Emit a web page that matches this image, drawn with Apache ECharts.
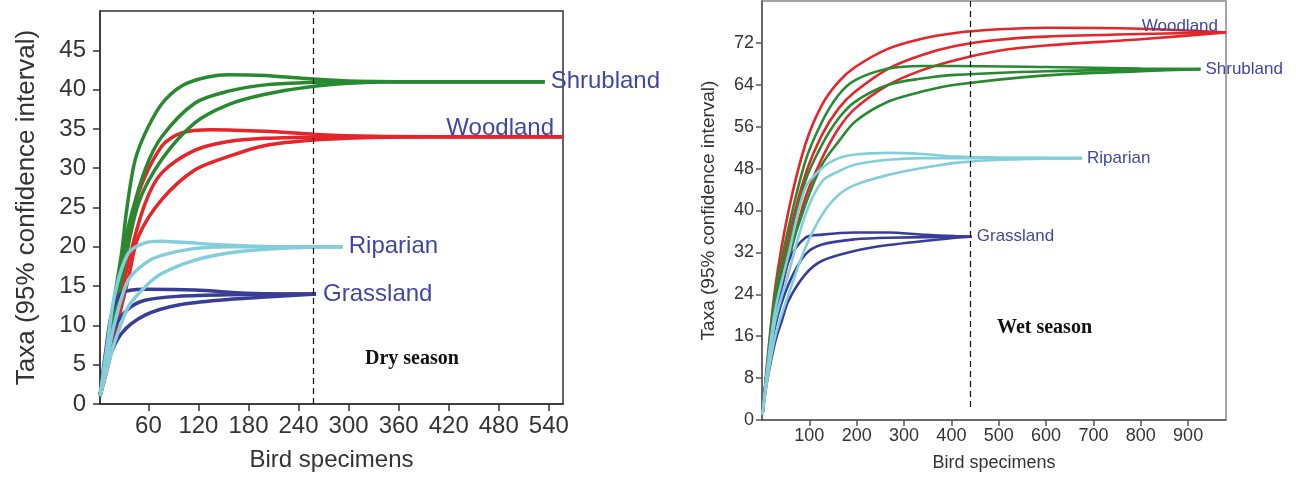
<!DOCTYPE html>
<html><head><meta charset="utf-8">
<script src="https://cdn.jsdelivr.net/npm/echarts@6/dist/echarts.min.js"></script>
<style>html,body{margin:0;padding:0;background:#fff}#c{width:1296px;height:479px}</style>
</head><body><div id="c"></div>
<script>
// ---------- tick labels ----------
const dryXTicks = [60,120,180,240,300,360,420,480,540];
const dryYTicks = [0,5,10,15,20,25,30,35,40,45];
const wetXTicks = [100,200,300,400,500,600,700,800,900];
const wetYTicks = [0,8,16,24,32,40,48,56,64,72];
const dryDivider = 258;
const wetDivider = 440;
const wetDividerSpan = [2.4, 80];
const habitats = ['Woodland','Shrubland','Grassland','Riparian'];

// ---------- Dry season (left) ----------
const dryWoodUpper = [[2,1],[12,6],[20,11],[32,18.3],[48,26.8],[76,32.8],[100,34.5],[136,34.9],[200,34.7],[260,34.3],[330,34.05],[400,34],[557,34]];
const dryWoodMid   = [[2,1],[12,5.5],[20,9.5],[36,18],[56,25.5],[76,29.4],[116,32.3],[156,33.4],[200,33.8],[260,33.95],[330,34],[557,34]];
const dryWoodLower = [[2,1],[12,5],[20,9],[36,16],[48,21.3],[76,26],[116,29.8],[156,31.5],[200,32.9],[260,33.6],[330,33.9],[400,34],[557,34]];
const dryShrubUpper = [[2,1],[8,5.5],[14,9.8],[20,14],[28,19.3],[34,24.7],[44,31],[60,35.3],[80,38.7],[108,40.9],[155,41.9],[200,41.8],[250,41.4],[300,41.1],[400,41],[535,41]];
const dryShrubMid   = [[2,1],[10,6],[20,13],[28,18],[36,22.6],[56,29.8],[76,34],[116,38.3],[156,39.8],[200,40.6],[250,40.9],[300,41],[535,41]];
const dryShrubLower = [[2,1],[10,5.5],[20,11.5],[30,17],[48,25.5],[76,31.1],[116,35.8],[156,38.1],[200,39.4],[250,40.3],[300,40.8],[350,41],[535,41]];
const dryGrassUpper = [[2,1],[8,6],[16,11.5],[28,14.1],[56,14.6],[116,14.5],[176,14.1],[220,14],[261,14]];
const dryGrassMid   = [[2,1],[10,5.5],[20,9.8],[36,12.1],[56,13.2],[96,13.7],[156,13.9],[261,14]];
const dryGrassLower = [[2,1],[12,5.5],[28,9],[56,11.3],[96,12.6],[156,13.3],[200,13.6],[261,14]];
const dryRipUpper = [[2,1],[10,7],[20,14.1],[36,19.2],[56,20.5],[76,20.7],[96,20.6],[156,20.2],[200,20.05],[293,20]];
const dryRipMid   = [[2,1],[12,6.5],[20,10.5],[36,15.8],[56,17.9],[76,18.9],[116,19.8],[156,20],[293,20]];
const dryRipLower = [[2,1],[12,5],[20,8],[36,12.4],[56,14.9],[76,16.6],[116,18.3],[156,19.2],[200,19.7],[250,19.95],[293,20]];

// ---------- Wet season (right) ----------
const wetWoodUpper = [[1,1],[10,10],[28,25.3],[56,39.9],[91.5,52.6],[127,60.2],[162,64.6],[197,67.4],[267,70.9],[338,72.8],[408,73.9],[500,74.6],[600,74.9],[800,74.7],[980,74]];
const wetWoodMid   = [[1,1],[10,9],[28,22],[56,34.8],[91.5,46.8],[127,54.5],[162,59.5],[197,62.7],[267,67.1],[338,69.7],[408,71.4],[500,72.6],[600,73.2],[800,73.7],[980,74]];
const wetWoodLower = [[1,1],[10,8.5],[28,20],[56,30.4],[91.5,42.4],[127,50],[162,55.7],[197,59.5],[267,64],[338,66.8],[408,68.7],[500,70.5],[600,71.5],[800,72.7],[980,74]];
const wetShrubUpper = [[1,1],[10,9.5],[28,24],[56,36.7],[91.5,49.4],[127,57],[162,62.1],[197,64.9],[267,67.1],[338,67.6],[408,67.6],[600,67.4],[800,67.1],[926,67]];
const wetShrubMid   = [[1,1],[10,9],[28,22],[56,33],[91.5,45.6],[127,52.6],[162,57.6],[197,60.8],[267,64],[338,65.2],[408,65.9],[600,66.6],[800,66.9],[926,67]];
const wetShrubLower = [[1,1],[10,8.5],[28,20],[56,31],[91.5,41.1],[127,48.8],[162,53.2],[197,57],[267,60.8],[338,62.7],[408,64],[600,65.8],[800,66.6],[926,67]];
const wetGrassUpper = [[1,1],[10,9],[28,20],[42,25.3],[56,30.4],[91.5,34.8],[127,35.4],[197,35.8],[267,35.8],[338,35.4],[408,35.1],[443,35]];
const wetGrassMid   = [[1,1],[10,8],[28,18],[56,25.9],[91.5,31.6],[127,33.5],[197,34.5],[267,34.8],[443,35]];
const wetGrassLower = [[1,1],[10,7],[28,15],[42,19],[56,22.8],[91.5,27.8],[127,30.4],[197,32.3],[267,33.4],[408,34.8],[443,35]];
const wetRipUpper = [[1,1],[10,9],[28,21],[56,31.6],[91.5,44.3],[127,48.1],[162,50],[197,50.7],[267,51],[338,50.8],[408,50.3],[500,50.1],[676,50]];
const wetRipMid   = [[1,1],[10,8],[28,19],[56,28],[91.5,39.2],[127,45.6],[162,47.5],[197,48.8],[267,49.7],[338,50],[676,50]];
const wetRipLower = [[1,1],[10,7],[28,16],[56,24],[91.5,32.9],[127,39.2],[162,43],[197,44.9],[267,46.8],[338,48.1],[408,49.1],[500,49.7],[676,50]];

const COL = {Woodland:'#e6242a', Shrubland:'#278a31', Grassland:'#383d98', Riparian:'#82cfdb'};
const LABEL_COL = '#4047a3';

function mk(data, name, gi, width, label) {
  const s = {
    type:'line', xAxisIndex:gi, yAxisIndex:gi, data:data, smooth:0.3,
    symbol:'none', color:COL[name], lineStyle:{color:COL[name], width:width}, silent:true
  };
  if (label) {
    s.endLabel = Object.assign({show:true, formatter:name, color:LABEL_COL,
      fontFamily:'Liberation Sans, Arial, sans-serif'}, label);
  }
  return s;
}

const L = 24, R = 17;
const series = [
  mk(dryWoodUpper,'Woodland',0,3.5), mk(dryWoodLower,'Woodland',0,3.5),
  mk(dryWoodMid,'Woodland',0,3.5,{fontSize:L, align:'right', verticalAlign:'middle', offset:[-9,-8], distance:0}),
  mk(dryShrubUpper,'Shrubland',0,3.5), mk(dryShrubLower,'Shrubland',0,3.5),
  mk(dryShrubMid,'Shrubland',0,3.5,{fontSize:L, distance:6}),
  mk(dryGrassUpper,'Grassland',0,3.5), mk(dryGrassLower,'Grassland',0,3.5),
  mk(dryGrassMid,'Grassland',0,3.5,{fontSize:L, distance:7}),
  mk(dryRipUpper,'Riparian',0,3.5), mk(dryRipLower,'Riparian',0,3.5),
  mk(dryRipMid,'Riparian',0,3.5,{fontSize:L, distance:6}),

  mk(wetWoodUpper,'Woodland',1,2.6), mk(wetWoodLower,'Woodland',1,2.6),
  mk(wetWoodMid,'Woodland',1,2.6,{fontSize:R, align:'right', verticalAlign:'middle', offset:[-8,-6], distance:0}),
  mk(wetShrubUpper,'Shrubland',1,2.6), mk(wetShrubLower,'Shrubland',1,2.6),
  mk(wetShrubMid,'Shrubland',1,2.6,{fontSize:R, distance:5}),
  mk(wetGrassUpper,'Grassland',1,2.6), mk(wetGrassLower,'Grassland',1,2.6),
  mk(wetGrassMid,'Grassland',1,2.6,{fontSize:R, distance:5}),
  mk(wetRipUpper,'Riparian',1,2.6), mk(wetRipLower,'Riparian',1,2.6),
  mk(wetRipMid,'Riparian',1,2.6,{fontSize:R, distance:5})
];

series.push({
  type:'line', xAxisIndex:0, yAxisIndex:0, data:[], silent:true,
  markLine:{symbol:['none','none'], silent:true, label:{show:false},
    lineStyle:{type:[6,4], color:'#111', width:1.2}, data:[{xAxis:dryDivider}]}
});
series.push({
  type:'line', xAxisIndex:1, yAxisIndex:1, data:[], silent:true,
  markLine:{symbol:['none','none'], silent:true, label:{show:false},
    lineStyle:{type:[6,4], color:'#111', width:1.2},
    data:[[{coord:[wetDivider, wetDividerSpan[1]]},{coord:[wetDivider, wetDividerSpan[0]]}]]}
});

const FONT = 'Liberation Sans, Arial, sans-serif';
function ax(gi, min, max, ticks, fs, name, nameFs, gap, margin, tickLen, lc) {
  return {type:'value', gridIndex:gi, min:min, max:max, name:name, nameLocation:'middle', nameGap:gap,
    nameTextStyle:{fontSize:nameFs, color:'#333', fontFamily:FONT},
    axisLine:{show:true, lineStyle:{color:lc, width:1.5}},
    axisTick:{show:true, length:tickLen, customValues:ticks, lineStyle:{color:lc, width:1.5}},
    axisLabel:{customValues:ticks, fontSize:fs, color:'#333', fontFamily:FONT, margin:margin},
    splitLine:{show:false}};
}

const chart = echarts.init(document.getElementById('c'), null, {renderer:'canvas'});
chart.setOption({
  animation:false,
  backgroundColor:'#fff',
  grid:[
    {left:100, top:11, width:463, height:393, show:true, borderColor:'#333', borderWidth:1.5, backgroundColor:'transparent'},
    {left:762, top:1, width:464, height:419, show:true, borderColor:'#888', borderWidth:1.5, backgroundColor:'transparent'}
  ],
  xAxis:[
    ax(0, 2, 557, dryXTicks, 24, 'Bird specimens', 24, 44, 10, 7, '#333'),
    ax(1, 0, 980, wetXTicks, 18, 'Bird specimens', 18, 34, 7, 6, '#555')
  ],
  yAxis:[
    ax(0, 0, 50, dryYTicks, 24, 'Taxa (95% confidence interval)', 26, 60, 14, 7, '#333'),
    ax(1, 0, 80, wetYTicks, 18, 'Taxa (95% confidence interval)', 19, 44, 8, 6, '#555')
  ],
  graphic:[
    {type:'text', left:365, top:349, style:{text:'Dry season', font:'bold 20px "Liberation Serif", "Times New Roman", serif', fill:'#111'}},
    {type:'text', left:997, top:318, style:{text:'Wet season', font:'bold 20px "Liberation Serif", "Times New Roman", serif', fill:'#111'}}
  ],
  series:series
});
</script>
</body></html>
